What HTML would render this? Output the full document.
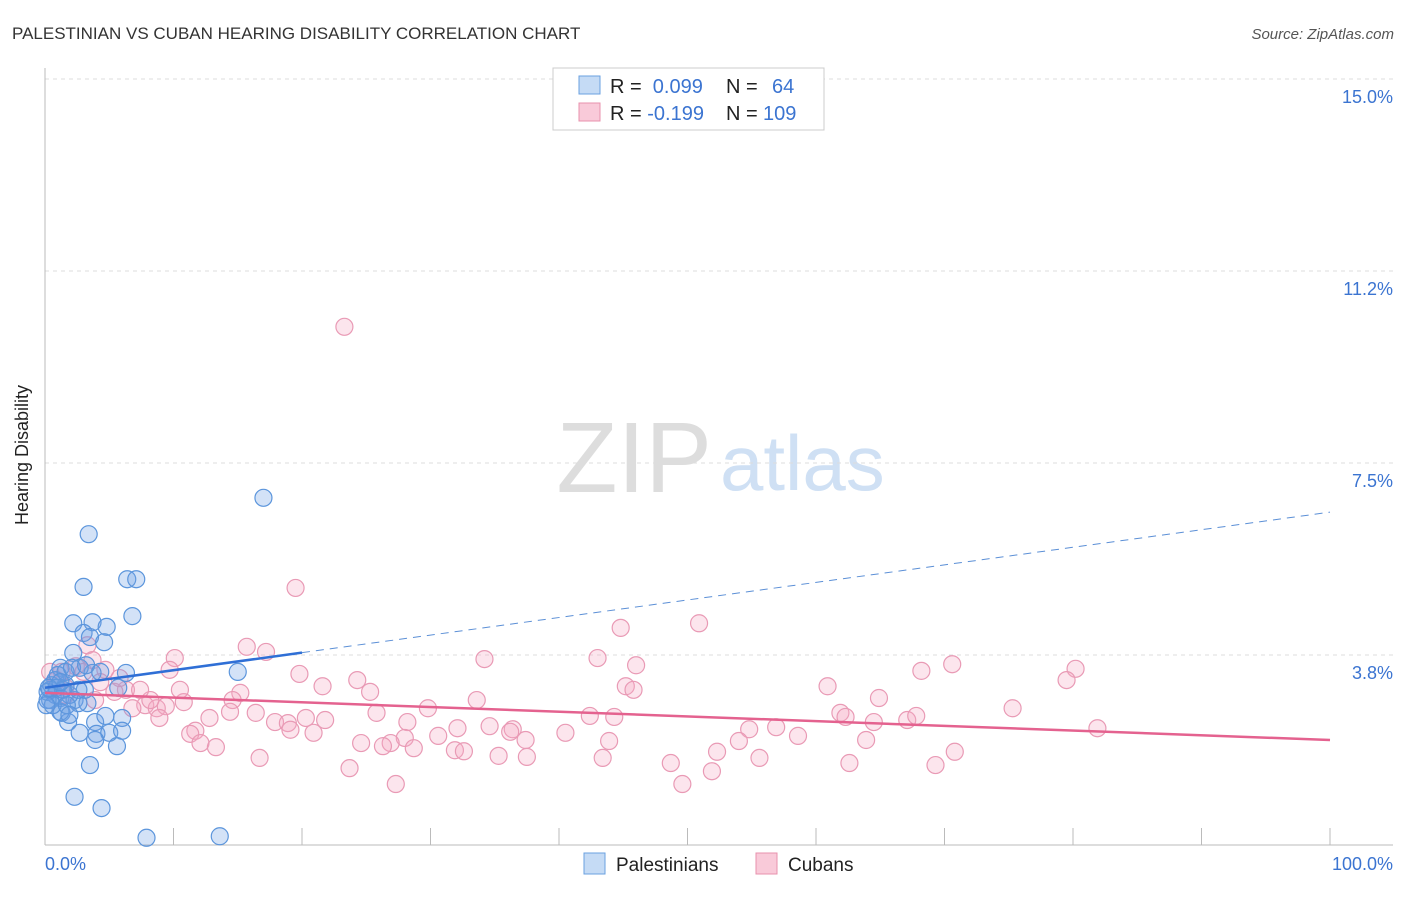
<!DOCTYPE html>
<html><head><meta charset="utf-8"><style>
body{margin:0;background:#fff;font-family:"Liberation Sans",sans-serif;}
svg text{font-family:"Liberation Sans",sans-serif;}
</style></head><body>
<svg id="c" width="1406" height="892" xmlns="http://www.w3.org/2000/svg">
<text x="12" y="39" font-size="17" fill="#333">PALESTINIAN VS CUBAN HEARING DISABILITY CORRELATION CHART</text>
<text x="1394" y="39" font-size="15" fill="#555" font-style="italic" text-anchor="end">Source: ZipAtlas.com</text>
<text x="28" y="455" font-size="18" fill="#222" transform="rotate(-90 28 455)" text-anchor="middle">Hearing Disability</text>
<g><text x="712" y="492" font-size="100" fill="#ddd" font-family="Liberation Serif" text-anchor="end">ZIP</text><text x="720" y="490" font-size="78" fill="#cfe0f4">atlas</text></g>
<g id="grid"></g><g id="pts"></g><g id="lines"></g>
<g>
<rect x="553" y="68" width="271" height="62" fill="#fff" stroke="#ccc"/>
<rect x="579" y="76" width="21" height="18" fill="#c5dbf5" stroke="#6aa0e0"/>
<rect x="579" y="103" width="21" height="18" fill="#f9cad9" stroke="#e891ad"/>
<text x="610" y="93" font-size="20" fill="#222">R = <tspan fill="#3b74d1">&#160;0.099</tspan><tspan x="726">N = </tspan><tspan x="772" fill="#3b74d1">64</tspan></text>
<text x="610" y="120" font-size="20" fill="#222">R = <tspan fill="#3b74d1">-0.199</tspan><tspan x="726">N = </tspan><tspan x="763" fill="#3b74d1">109</tspan></text>
</g>
<g>
<rect x="584" y="853" width="21" height="21" fill="#c5dbf5" stroke="#6aa0e0"/><text x="616" y="871" font-size="19" fill="#222">Palestinians</text>
<rect x="756" y="853" width="21" height="21" fill="#f9cad9" stroke="#e891ad"/><text x="788" y="871" font-size="19" fill="#222">Cubans</text>
</g>
</svg>
<script>
const yTicks=[15,11.25,7.5,3.75];
const yTickLabels=["15.0%","11.2%","7.5%","3.8%"];
const xTickLabels=["0.0%","100.0%"];
const blueX=[17.0,3.4,3.0,6.4,7.1,6.8,2.2,3.7,3.0,4.8,3.5,4.6,2.2,6.3,15.0,3.7,1.2,2.7,0.8,1.6,0.4,0.4,1.2,2.3,3.3,2.6,1.3,1.8,3.9,6.0,2.7,4.0,5.0,6.0,3.9,5.6,3.5,2.3,4.4,7.9,13.6,1.2,4.7,3.1,1.9,0.8,0.2,0.5,1.0,1.6,2.1,0.2,0.6,0.9,1.4,3.2,4.3,5.7,1.7,0.1,0.3,1.2,2.6,1.9];
const blueY=[6.82,6.11,5.08,5.23,5.23,4.51,4.37,4.39,4.18,4.30,4.10,4.00,3.79,3.40,3.42,3.40,3.50,3.50,3.26,3.16,3.07,2.87,2.91,2.87,2.81,2.81,2.62,2.44,2.44,2.52,2.23,2.21,2.23,2.27,2.09,1.97,1.60,0.98,0.76,0.18,0.21,2.64,2.56,3.07,2.97,2.97,2.87,3.16,3.36,3.42,3.50,3.03,2.77,3.11,3.07,3.55,3.42,3.11,2.77,2.77,3.11,3.22,3.07,2.58];
const pinkX=[23.3,19.5,50.9,44.8,15.7,17.2,10.1,3.3,34.2,43.0,46.0,70.6,80.2,68.2,79.5,19.8,9.7,4.7,2.4,1.3,0.4,24.3,4.3,6.3,25.3,21.6,45.2,45.8,60.9,64.9,15.2,10.8,14.6,5.4,7.8,8.7,9.4,6.8,29.8,33.6,75.3,25.8,16.4,12.8,8.9,20.3,21.8,17.9,18.9,28.2,34.6,32.1,36.4,42.4,44.3,54.8,56.9,61.9,62.3,67.1,67.8,81.9,64.5,36.2,11.7,11.3,20.9,12.1,13.3,30.6,28.0,37.4,40.5,58.6,26.9,24.6,26.3,28.7,31.9,32.6,43.9,54.0,52.3,63.9,70.8,16.7,35.3,37.5,43.4,55.6,23.7,48.7,62.6,69.3,51.9,27.3,49.6,19.1,14.4,8.2,3.0,3.7,1.6,0.9,1.6,5.8,7.4,10.5,3.9];
const pinkY=[10.16,5.06,4.37,4.28,3.91,3.81,3.69,3.94,3.67,3.69,3.55,3.57,3.48,3.44,3.26,3.38,3.46,3.46,3.53,3.42,3.42,3.26,3.22,3.07,3.03,3.14,3.14,3.07,3.14,2.91,3.01,2.83,2.87,3.03,2.77,2.71,2.75,2.71,2.71,2.87,2.71,2.62,2.62,2.52,2.52,2.52,2.48,2.44,2.42,2.44,2.36,2.32,2.30,2.56,2.54,2.30,2.34,2.62,2.54,2.48,2.56,2.32,2.44,2.25,2.27,2.21,2.23,2.03,1.95,2.17,2.13,2.09,2.23,2.17,2.03,2.03,1.97,1.93,1.89,1.87,2.07,2.07,1.86,2.09,1.86,1.74,1.78,1.76,1.74,1.74,1.54,1.64,1.64,1.60,1.48,1.23,1.23,2.29,2.64,2.87,3.42,3.65,3.11,3.26,2.97,3.30,3.07,3.07,2.87];
const blueTrend=[3.11,6.54];
const pinkTrend=[3.01,2.09];
const NS="http://www.w3.org/2000/svg";
const sx=v=>45+v*12.85, sy=v=>847-v*51.2;
function mk(t,a,p){const e=document.createElementNS(NS,t);for(const k in a)e.setAttribute(k,a[k]);p.appendChild(e);return e;}
const g=document.getElementById('grid');
yTicks.forEach((t,i)=>{
 const l=mk('line',{x1:45,x2:1393,y1:sy(t),y2:sy(t),stroke:'#ddd','stroke-dasharray':'4,4'},g);
 
 
 const tx=mk('text',{x:1393,y:sy(t)+24,'font-size':18,fill:'#3b74d1','text-anchor':'end'},g);tx.textContent=yTickLabels[i];
 
 
});
mk('line',{x1:45,x2:45,y1:68,y2:845,stroke:'#bbb'},g);
mk('line',{x1:45,x2:1393,y1:845,y2:845,stroke:'#bbb'},g);
for(let i=1;i<=10;i++){const t=mk('line',{x1:sx(i*10),x2:sx(i*10),y1:828,y2:845,stroke:'#bbb'},g);
 
 }
[[0,'start',45],[1,'end',1393]].forEach(([i,a,x])=>{const t=mk('text',{x:x,y:870,'font-size':18,fill:'#3b74d1','text-anchor':a},g);t.textContent=xTickLabels[i];
 
 });
const P=document.getElementById('pts');
pinkX.forEach((x,i)=>{const c=mk('circle',{cx:sx(x),cy:sy(pinkY[i]),r:8.5,fill:'rgba(244,170,195,0.3)',stroke:'#e99ab5','stroke-width':1.2},P);
 
 });
blueX.forEach((x,i)=>{const c=mk('circle',{cx:sx(x),cy:sy(blueY[i]),r:8.5,fill:'rgba(110,160,230,0.3)',stroke:'#5b95dc','stroke-width':1.2},P);
 
 });
const L=document.getElementById('lines');
const by=x=>blueTrend[0]+(blueTrend[1]-blueTrend[0])*x/100;
const l1=mk('line',{x1:sx(0),y1:sy(by(0)),x2:sx(20),y2:sy(by(20)),stroke:'#2f6fd6','stroke-width':2.5},L);


const l2=mk('line',{x1:sx(20),y1:sy(by(20)),x2:sx(100),y2:sy(by(100)),stroke:'#5b8fd6','stroke-width':1,'stroke-dasharray':'8,6'},L);


const l3=mk('line',{x1:sx(0),y1:sy(pinkTrend[0]),x2:sx(100),y2:sy(pinkTrend[1]),stroke:'#e4628f','stroke-width':2.5},L);


</script>
</body></html>
